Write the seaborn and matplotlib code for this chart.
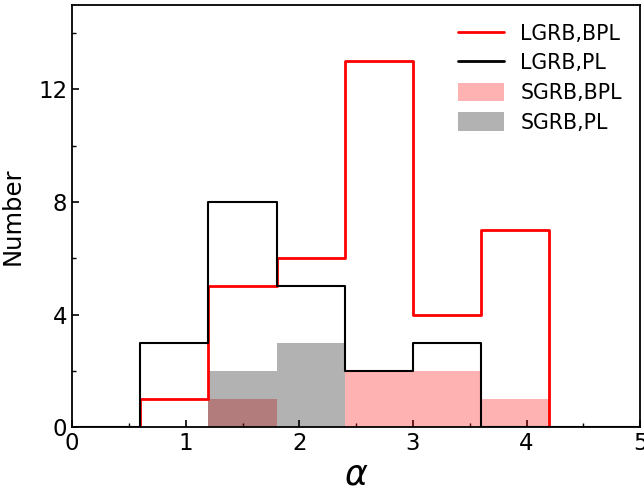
import numpy as np
import pandas as pd
import matplotlib
matplotlib.use("Agg")
import matplotlib.pyplot as plt
import seaborn as sns
from matplotlib.lines import Line2D
from matplotlib.patches import Patch
from matplotlib.ticker import MultipleLocator

# Histogram bin edges (alpha)
bin_edges = [0.0, 0.6, 1.2, 1.8, 2.4, 3.0, 3.6, 4.2, 4.8, 5.4]
# Counts per bin
lgrb_bpl = [0, 1, 5, 6, 13, 4, 7, 0, 0]
lgrb_pl = [0, 3, 8, 5, 2, 3, 0, 0, 0]
sgrb_bpl = [0, 0, 1, 0, 2, 2, 1, 0, 0]
sgrb_pl = [0, 0, 2, 3, 0, 0, 0, 0, 0]
labels = ["LGRB,BPL", "LGRB,PL", "SGRB,BPL", "SGRB,PL"]

centers = [(a + b) / 2 for a, b in zip(bin_edges[:-1], bin_edges[1:])]
df = pd.DataFrame({"alpha": centers, "lbpl": lgrb_bpl, "lpl": lgrb_pl,
                   "sbpl": sgrb_bpl, "spl": sgrb_pl})

sns.set_theme(style="ticks")
plt.rcParams["font.family"] = ["DejaVu Sans"]
plt.rcParams.update({"text.color": "black", "axes.labelcolor": "black",
                     "xtick.color": "black", "ytick.color": "black",
                     "axes.edgecolor": "black"})

fig = plt.figure(figsize=(6.44, 4.91), dpi=100)
ax = fig.add_axes([0.112, 0.13, 0.882, 0.86])

sns.histplot(data=df, x="alpha", weights="sbpl", bins=bin_edges, element="bars",
             color=(1, 0, 0), alpha=0.3, linewidth=0, ax=ax)
sns.histplot(data=df, x="alpha", weights="spl", bins=bin_edges, element="bars",
             color=(0, 0, 0), alpha=0.3, linewidth=0, ax=ax)
sns.histplot(data=df, x="alpha", weights="lbpl", bins=bin_edges, element="step",
             fill=False, color="red", linewidth=2.0, ax=ax)
sns.histplot(data=df, x="alpha", weights="lpl", bins=bin_edges, element="step",
             fill=False, color="black", linewidth=1.5, ax=ax)

ax.set_xlim(0, 5)
ax.set_ylim(0, 15)
ax.xaxis.set_major_locator(MultipleLocator(1))
ax.xaxis.set_minor_locator(MultipleLocator(0.5))
ax.yaxis.set_major_locator(MultipleLocator(4))
ax.yaxis.set_minor_locator(MultipleLocator(2))
ax.tick_params(which="both", direction="in", labelsize=16.5, color="black",
               labelcolor="black")
ax.tick_params(which="major", length=5, width=1.2)
ax.tick_params(which="minor", length=3, width=1.0)
for s in ax.spines.values():
    s.set_color("black")
    s.set_linewidth(1.3)

ax.set_xlabel(r"$\alpha$", fontsize=25, labelpad=2)
ax.set_ylabel("Number", fontsize=17.5, labelpad=10)

handles = [Line2D([], [], color="red", linewidth=2),
           Line2D([], [], color="black", linewidth=2),
           Patch(facecolor=(1, 0, 0, 0.3), edgecolor="none"),
           Patch(facecolor=(0, 0, 0, 0.3), edgecolor="none")]
ax.legend(handles, labels, loc="upper right", frameon=False, fontsize=14.8,
          handlelength=2.2, handleheight=1.0, labelspacing=0.46,
          bbox_to_anchor=(1.0, 1.0))

fig.savefig("out.png", dpi=100)
